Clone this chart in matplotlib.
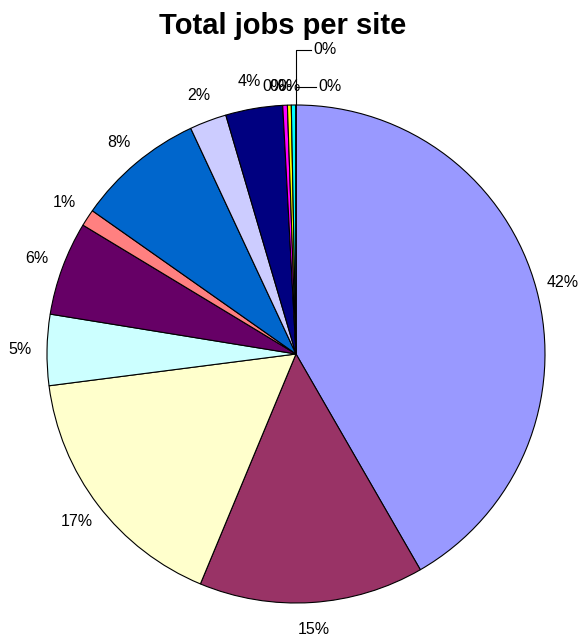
import matplotlib
matplotlib.use("Agg")
import matplotlib.pyplot as plt
import numpy as np

plt.rcParams['font.family'] = ['Liberation Sans', 'DejaVu Sans']

title = "Total jobs per site"
values = [41.7, 14.6, 16.7, 4.6, 6.1, 1.1, 8.3, 2.4, 3.7, 0.3, 0.25, 0.3, 0.0, 0.0]
colors = ['#9999FF', '#993366', '#FFFFCC', '#CCFFFF', '#660066', '#FF8080',
          '#0066CC', '#CCCCFF', '#000080', '#FF00FF', '#FFFF00', '#00FFFF',
          '#800080', '#800000']

fig = plt.figure(figsize=(5.82, 6.36), dpi=100)
R = 249
cx, cy = 296, 354
W, H = 582, 636
ax = fig.add_axes([(cx - R) / W, (H - cy - R) / H, 2 * R / W, 2 * R / H])

total = sum(values)
pcts = [v / total * 100 for v in values]
labels = ['%d%%' % int(p + 0.5) for p in pcts]

wedges, texts = ax.pie(values, colors=colors, startangle=90, counterclock=False,
                       labels=labels, labeldistance=1.11,
                       wedgeprops=dict(edgecolor='black', linewidth=0.8),
                       textprops=dict(fontsize=11.5))
ax.set_xlim(-1, 1)
ax.set_ylim(-1, 1)
ax.set_aspect('equal')
ax.axis('off')

for t in texts:
    t.set_ha('center')
    t.set_va('center')
    t.set_clip_on(False)

def d(px, py):
    return (px - cx) / R, (cy - py) / R

# reposition tiny-slice labels (Excel style)
n_big = 9
tiny = list(range(n_big, len(values)))
overlap_x = [274, 281, 289]
for k, i in enumerate(tiny):
    t = texts[i]
    if k < 3:
        x, y = d(overlap_x[k], 87)
        t.set_position((x, y))
    elif k == 3:
        x, y = d(318, 87)
        t.set_position((x, y)); t.set_ha('left')
        x0, _ = d(296, 87)
        ax.plot([x0, x - 0.01], [y, y], color='black', lw=0.8, clip_on=False)
    else:
        x, y = d(313, 50)
        t.set_position((x, y)); t.set_ha('left')
        x0, y0 = d(296, 50)
        _, ytop = d(296, 105)
        ax.plot([x0, x0, x - 0.01], [ytop, y0, y0], color='black', lw=0.8, clip_on=False)

fig.text(283 / W, 1 - 26 / H, title, ha='center', va='center',
         fontsize=21, fontweight='bold')

fig.savefig('out.png', dpi=100)
